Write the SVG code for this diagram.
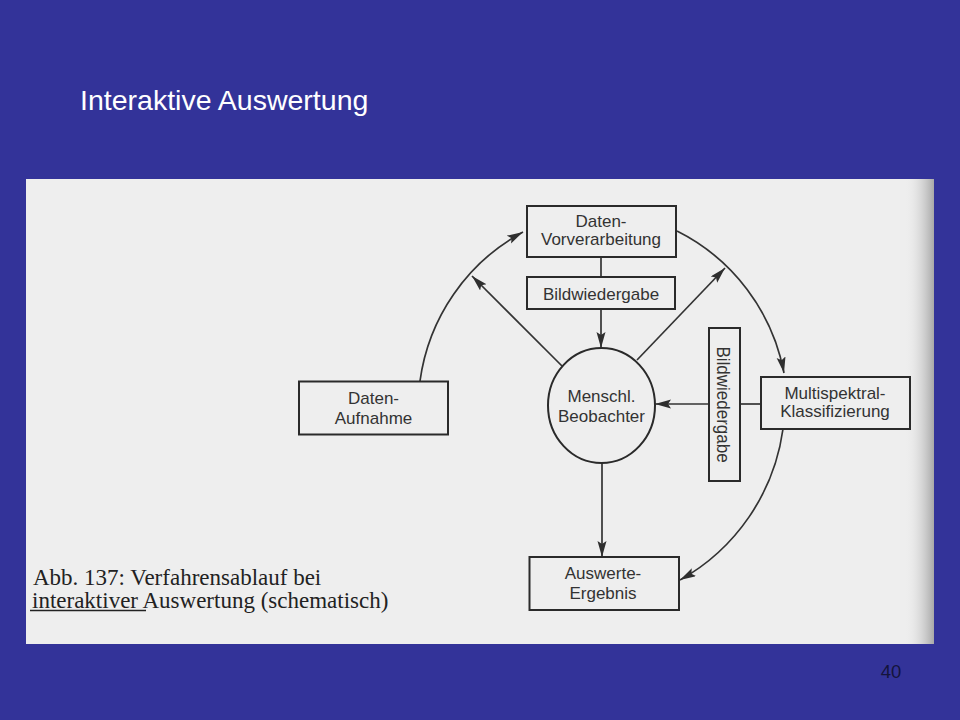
<svg xmlns="http://www.w3.org/2000/svg" width="960" height="720" viewBox="0 0 960 720">
<defs>
<linearGradient id="edge" x1="0" y1="0" x2="1" y2="0">
<stop offset="0" stop-color="#ececec" stop-opacity="0"/>
<stop offset="1" stop-color="#a8a8a8"/>
</linearGradient>
<marker id="ah" markerUnits="userSpaceOnUse" markerWidth="18" markerHeight="10" refX="16" refY="4.5" orient="auto">
<path d="M0,0 L16,4.5 L0,9 L3,4.5 z" fill="#2e2e2e"/>
</marker>
<style>
.box{fill:none;stroke:#2a2a2a;stroke-width:2}
.lbl{font-family:"Liberation Sans",Arial,sans-serif;font-size:17px;fill:#333;text-anchor:middle}
.con{fill:none;stroke:#333;stroke-width:1.7}
.cap{font-family:"Liberation Serif","Times New Roman",serif;font-size:23px;fill:#222}
</style>
</defs>
<rect width="960" height="720" fill="#333399"/>
<text x="80" y="110" font-family="Liberation Sans,Arial,sans-serif" font-size="28.5" fill="#ffffff">Interaktive Auswertung</text>
<text x="891" y="678" font-family="Liberation Sans,Arial,sans-serif" font-size="18.5" fill="#14143c" text-anchor="middle">40</text>
<rect x="26" y="179" width="908" height="465" fill="#eeeeee"/>
<rect x="905" y="179" width="29" height="465" fill="url(#edge)"/>

<g id="connectors">
<line class="con" x1="601" y1="257" x2="601" y2="277"/>
<line class="con" x1="601" y1="310" x2="601" y2="348" marker-end="url(#ah)"/>
<line class="con" x1="637" y1="360" x2="725" y2="268" marker-end="url(#ah)"/>
<line class="con" x1="562" y1="366" x2="472" y2="276" marker-end="url(#ah)"/>
<line class="con" x1="761" y1="404" x2="740" y2="404"/>
<line class="con" x1="709" y1="404" x2="655" y2="404" marker-end="url(#ah)"/>
<line class="con" x1="602" y1="463" x2="602" y2="557" marker-end="url(#ah)"/>
<path class="con" d="M420,381 A200,200 0 0 1 523,232" marker-end="url(#ah)"/>
<path class="con" d="M677,231 A200,200 0 0 1 784,373" marker-end="url(#ah)"/>
<path class="con" d="M783,429 A205,205 0 0 1 680,580" marker-end="url(#ah)"/>
</g>

<g id="vorverarbeitung">
<rect class="box" x="527" y="206" width="149" height="51"/>
<text class="lbl" x="601" y="227">Daten-</text>
<text class="lbl" x="601" y="245">Vorverarbeitung</text>
</g>
<g id="bildwiedergabe1">
<rect class="box" x="527" y="277" width="148" height="32"/>
<text class="lbl" x="601" y="300">Bildwiedergabe</text>
</g>
<g id="beobachter">
<ellipse cx="601.5" cy="405.5" rx="53.5" ry="57.5" fill="none" stroke="#2a2a2a" stroke-width="2"/>
<text class="lbl" x="601.5" y="401.5">Menschl.</text>
<text class="lbl" x="601.5" y="421.5">Beobachter</text>
</g>
<g id="bildwiedergabe2">
<rect class="box" x="709" y="328" width="31" height="153"/>
<text class="lbl" transform="translate(717,404.5) rotate(90) scale(1,1.12)" x="0" y="0" font-size="17.5">Bildwiedergabe</text>
</g>
<g id="multispektral">
<rect class="box" x="761" y="377" width="149" height="52"/>
<text class="lbl" x="835" y="398.5">Multispektral-</text>
<text class="lbl" x="835" y="416.5">Klassifizierung</text>
</g>
<g id="aufnahme">
<rect class="box" x="299" y="381.5" width="149" height="53"/>
<text class="lbl" x="373.5" y="403.5">Daten-</text>
<text class="lbl" x="373.5" y="423.5">Aufnahme</text>
</g>
<g id="ergebnis">
<rect class="box" x="529.5" y="557" width="149.5" height="53"/>
<text class="lbl" x="603" y="578.5">Auswerte-</text>
<text class="lbl" x="603" y="598.5">Ergebnis</text>
</g>

<g id="caption">
<text class="cap" x="33" y="585">Abb. 137: Verfahrensablauf bei</text>
<text class="cap" x="32" y="608">interaktiver Auswertung (schematisch)</text>
<line x1="30" y1="610.5" x2="146" y2="610.5" stroke="#222" stroke-width="1.3"/>
</g>
</svg>
